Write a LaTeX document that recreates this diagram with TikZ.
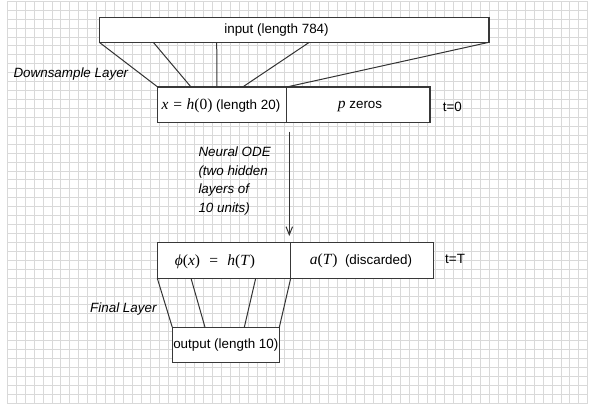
\documentclass[tikz,border=0pt]{standalone}
\usepackage{fontspec}
\setmainfont{Liberation Sans}
\newfontfamily\eqfont{Liberation Serif}
\usetikzlibrary{arrows.meta}
% formula pieces: serif, a little larger than the surrounding text
\newcommand\eq[1]{{\fontsize{15.5}{16}\selectfont\eqfont #1}}
\newcommand\vi[1]{{\itshape #1\/}}
\begin{document}
\begin{tikzpicture}[x=1pt,y=-1pt,
  gridline/.style={draw=black!15, line width=0.9pt},
  block/.style={draw=black!78, line width=1.1pt, fill=white, inner sep=0pt, outer sep=0pt},
  wire/.style={draw=black!80, line width=1.0pt},
  label/.style={inner sep=0pt, text=black, font=\fontsize{13.4}{18.7}\selectfont},
  note/.style={label, font=\fontsize{13.4}{18.7}\selectfont\itshape},
]
\useasboundingbox (0,0) rectangle (591,406);
\fill[white] (0,0) rectangle (591,406);

% background grid
\foreach \i in {0,...,65} \draw[gridline] ({7.3+8.93*\i},1.3) -- ({7.3+8.93*\i},403.2);
\foreach \j in {0,...,45} \draw[gridline] (7.3,{1.3+8.93*\j}) -- (587.75,{1.3+8.93*\j});

% blocks
\node[block, minimum width=389.7, minimum height=25] (inp) at (294.15,29.8) {};
\node[block, minimum width=129, minimum height=35.7] (xl) at (222.2,104.85) {};
\node[block, minimum width=143.3, minimum height=35.7] (xr) at (358.35,104.85) {};
\node[block, minimum width=133.4, minimum height=36] (hl) at (224,260.3) {};
\node[block, minimum width=143, minimum height=36] (hr) at (362.2,260.3) {};
\node[block, minimum width=107, minimum height=35.4] (out) at (225.8,345) {};

% downsample layer wires
\coordinate (a2) at (153.3,42.3); \coordinate (b2) at (191,87);
\coordinate (a3) at (216.7,42.3); \coordinate (b3) at (217,87);
\coordinate (a4) at (309.3,42.3); \coordinate (b4) at (242.7,87);
\draw[wire] (inp.south west) -- (xl.north west);
\draw[wire] (a2) -- (b2);
\draw[wire] (a3) -- (b3);
\draw[wire] (a4) -- (b4);
\draw[wire] (inp.south east) -- (xl.north east);

% final layer wires
\coordinate (c2) at (191,278.3); \coordinate (d2) at (205,327.3);
\coordinate (c3) at (255.7,278.3); \coordinate (d3) at (244.3,327.3);
\draw[wire] (hl.south west) -- (out.north west);
\draw[wire] (c2) -- (d2);
\draw[wire] (c3) -- (d3);
\draw[wire] (hl.south east) -- (out.north east);

% neural ODE flow
\coordinate (odetop) at (289.3,131.7);
\coordinate (odebot) at (289.3,236);
\draw[wire, -{Straight Barb[length=8pt,width=6.5pt]}] (odetop) -- (odebot);

% texts
\node[label] (inptxt) at (276.5,30) {input (length 784)};
\node[label] (xtxt) at (221,106) {\eq{\vi{x}\hspace{0.3em}=\hspace{0.3em}\vi{h}(0)} (length 20)};
\node[label] (ptxt) at (360,106) {\eq{\vi{p}} zeros};
\node[label, anchor=west] (t0) at (442.7,106.7) {t=0};
\node[note, anchor=west] (down) at (13.3,74) {Downsample Layer};
\node[note, anchor=west, align=left] (ode) at (198.3,181) {Neural ODE\\(two hidden\\layers of\\10 units)};
\node[label] (phitxt) at (215,262) {\eq{\vi{ϕ}(\vi{x})\hspace{0.6em}=\hspace{0.6em}\vi{h}(\vi{T})}};
\node[label] (atxt) at (361,261) {\eq{\vi{a}(\vi{T})}\ \ (discarded)};
\node[label, anchor=west] (tT) at (445,259) {t=T};
\node[note, anchor=west] (final) at (90,309.3) {Final Layer};
\node[label] (outtxt) at (out.center) {output (length 10)};
\end{tikzpicture}
\end{document}
